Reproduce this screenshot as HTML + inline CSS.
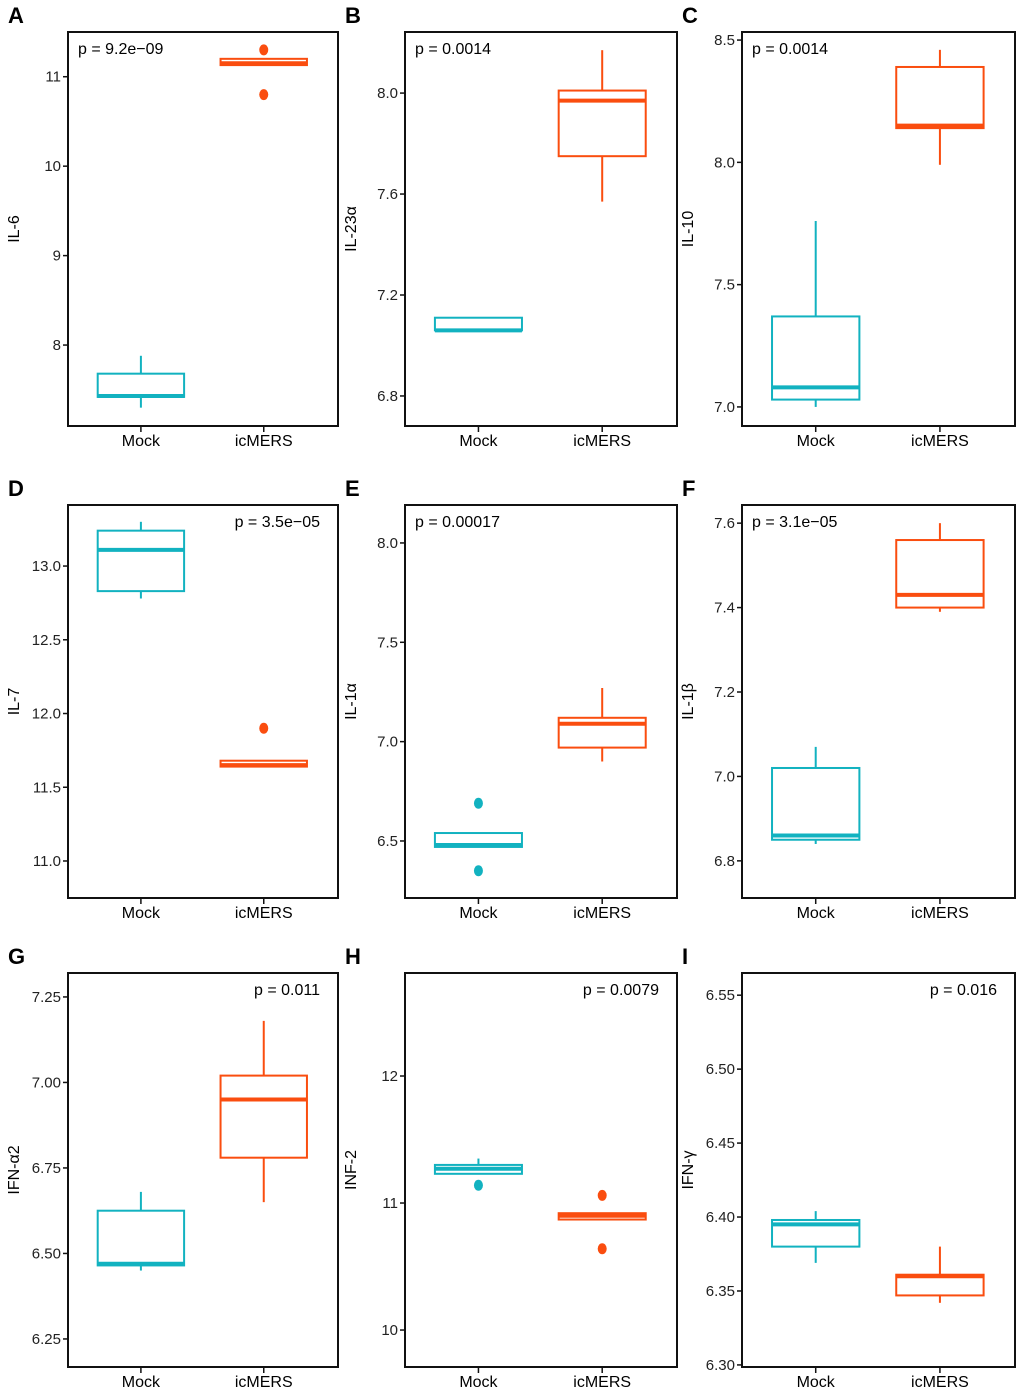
<!DOCTYPE html>
<html><head><meta charset="utf-8"><style>
html,body{margin:0;padding:0;background:#fff;}
svg{display:block;font-family:"Liberation Sans",sans-serif;}
</style></head><body>
<svg id="fig" width="1020" height="1395" viewBox="0 0 1020 1395" xmlns="http://www.w3.org/2000/svg"></svg>
<script>
const panelLetters = ["A","B","C","D","E","F","G","H","I"];
const yLabels = ["IL-6","IL-23α","IL-10","IL-7","IL-1α","IL-1β","IFN-α2","INF-2","IFN-γ"];
const pLabels = ["p = 9.2e−09","p = 0.0014","p = 0.0014","p = 3.5e−05","p = 0.00017","p = 3.1e−05","p = 0.011","p = 0.0079","p = 0.016"];
const pRight = [false,false,false,true,false,false,true,true,true];
const groups = ["Mock","icMERS"];
const yDomains = [[7.095,11.5],[6.681,8.242],[6.922,8.533],[10.749,13.414],[6.213,8.191],[6.712,7.643],[6.168,7.32],[9.709,12.811],[6.2986,6.565]];
const yTicks = [[8,9,10,11],[6.8,7.2,7.6,8.0],[7.0,7.5,8.0,8.5],[11.0,11.5,12.0,12.5,13.0],[6.5,7.0,7.5,8.0],[6.8,7.0,7.2,7.4,7.6],[6.25,6.50,6.75,7.00,7.25],[10,11,12],[6.30,6.35,6.40,6.45,6.50,6.55]];
const tickDigits = [0,1,1,1,1,1,2,0,2];
// [lo, q1, median, q3, hi] per group
const mockStats = [[7.3,7.42,7.43,7.68,7.88],[7.06,7.06,7.06,7.11,7.11],[7.0,7.03,7.08,7.37,7.76],[12.78,12.83,13.11,13.24,13.3],[6.47,6.47,6.48,6.54,6.54],[6.84,6.85,6.86,7.02,7.07],[6.45,6.465,6.47,6.625,6.68],[11.23,11.23,11.27,11.3,11.35],[6.369,6.38,6.395,6.398,6.404]];
const icmersStats = [[11.13,11.13,11.15,11.2,11.2],[7.57,7.75,7.97,8.01,8.17],[7.99,8.14,8.15,8.39,8.46],[11.64,11.64,11.65,11.68,11.68],[6.9,6.97,7.09,7.12,7.27],[7.39,7.4,7.43,7.56,7.6],[6.65,6.78,6.95,7.02,7.18],[10.87,10.87,10.9,10.92,10.92],[6.342,6.347,6.36,6.361,6.38]];
const mockOutliers = [[],[],[],[],[6.69,6.35],[],[],[11.14],[]];
const icmersOutliers = [[11.3,10.8],[],[],[11.9],[],[],[],[11.06,10.64],[]];

const NS="http://www.w3.org/2000/svg";
const svg=document.getElementById('fig');
const colors=["#12b2c0","#fa4d0f"];
const frameX=[[68,338],[405,677],[742,1015]];
const frameY=[[32,426],[505,898],[973,1367]];
function mk(tag,attrs,parent,name){const e=document.createElementNS(NS,tag);for(const k in attrs)e.setAttribute(k,attrs[k]);


(parent||svg).appendChild(e);return e;}

for(let i=0;i<9;i++){
  const col=i%3,row=Math.floor(i/3);
  const [x0,x1]=frameX[col],[y0,y1]=frameY[row];
  const [dmin,dmax]=yDomains[i];
  const y=v=>y1-(v-dmin)/(dmax-dmin)*(y1-y0);
  const w=x1-x0;
  const gx=k=>x0+w*(k===0?0.27:0.725);
  const g=mk('g',{},svg,'panel-'+panelLetters[i].toLowerCase());
  const lt=mk('text',{x:x0-60,y:y0-9,'font-size':22,'font-weight':'bold'},g,'panel-letter');lt.textContent=panelLetters[i];
  mk('rect',{x:x0,y:y0,width:w,height:y1-y0,fill:'none',stroke:'#111','stroke-width':2},g,'plot-frame');
  yTicks[i].forEach(t=>{const yy=y(t);
    mk('line',{x1:x0-5,x2:x0,y1:yy,y2:yy,stroke:'#111','stroke-width':1.5},g,'y-tick');
    const tx=mk('text',{x:x0-7,y:yy+5,'font-size':15,'text-anchor':'end',fill:'#222'},g,'y-tick-label');tx.textContent=t.toFixed(tickDigits[i]);});
  const yl=mk('text',{transform:`translate(${x0-49},${(y0+y1)/2}) rotate(-90)`,'font-size':16,'text-anchor':'middle'},g,'y-axis-title');yl.textContent=yLabels[i];
  const pt=mk('text',{x:pRight[i]?x1-18:x0+10,y:y0+22,'font-size':16,'text-anchor':pRight[i]?'end':'start'},g,'p-value');pt.textContent=pLabels[i];
  const allStats=[mockStats[i],icmersStats[i]],allOut=[mockOutliers[i],icmersOutliers[i]];
  for(let k=0;k<2;k++){
    const cx=gx(k),c=colors[k],s=allStats[k],hw=w*0.16;
    mk('line',{x1:cx,x2:cx,y1:y1,y2:y1+6,stroke:'#111','stroke-width':1.5},g,'x-tick');
    const xl=mk('text',{x:cx,y:y1+20,'font-size':16,'text-anchor':'middle'},g,'x-tick-label');xl.textContent=groups[k];
    const bg=mk('g',{},g,'box-'+groups[k].toLowerCase());
    mk('line',{x1:cx,x2:cx,y1:y(s[0]),y2:y(s[1]),stroke:c,'stroke-width':2},bg,'lower-whisker');
    mk('line',{x1:cx,x2:cx,y1:y(s[3]),y2:y(s[4]),stroke:c,'stroke-width':2},bg,'upper-whisker');
    mk('rect',{x:cx-hw,y:y(s[3]),width:2*hw,height:Math.max(y(s[1])-y(s[3]),0.5),fill:'#fff',stroke:c,'stroke-width':2},bg,'iqr-box');
    mk('line',{x1:cx-hw,x2:cx+hw,y1:y(s[2]),y2:y(s[2]),stroke:c,'stroke-width':4},bg,'median-line');
    allOut[k].forEach(o=>mk('ellipse',{cx:cx,cy:y(o),rx:4.5,ry:5.5,fill:c},bg,'outlier-point'));
  }
}
</script>
</body></html>
